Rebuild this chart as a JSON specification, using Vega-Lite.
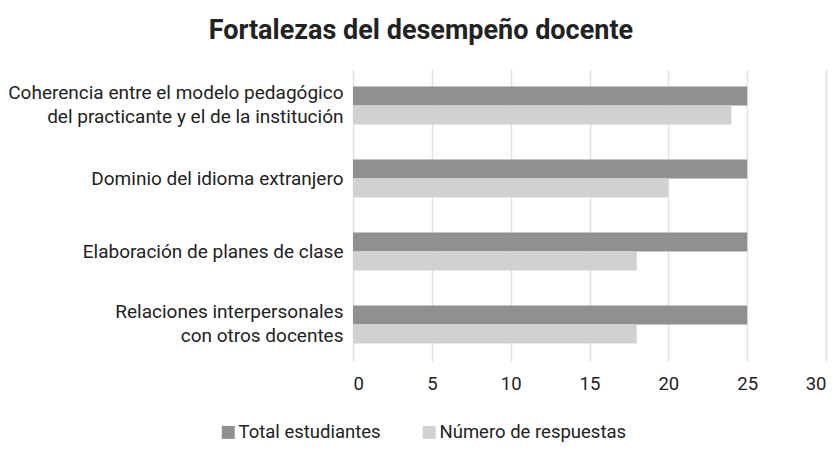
{
  "$schema": "https://vega.github.io/schema/vega-lite/v6.json",
  "width": 473,
  "height": 292,
  "autosize": {"type": "none"},
  "padding": {"left": 353, "top": 69, "right": 13, "bottom": 108},
  "background": "white",
  "title": {
    "text": "Fortalezas del desempeño docente",
    "anchor": "middle",
    "frame": "bounds",
    "font": "Roboto",
    "fontSize": 27,
    "fontWeight": "bold",
    "color": "#222222",
    "offset": 24,
    "dx": 4
  },
  "config": {
    "view": {"stroke": null},
    "font": "Roboto"
  },
  "data": {
    "values": [
      {"cat": "Coherencia entre el modelo pedagógico|del practicante y el de la institución", "serie": "Total  estudiantes", "orden": 1, "valor": 25},
      {"cat": "Coherencia entre el modelo pedagógico|del practicante y el de la institución", "serie": "Número de respuestas", "orden": 2, "valor": 24},
      {"cat": "Dominio del idioma extranjero", "serie": "Total  estudiantes", "orden": 1, "valor": 25},
      {"cat": "Dominio del idioma extranjero", "serie": "Número de respuestas", "orden": 2, "valor": 20},
      {"cat": "Elaboración de planes de clase", "serie": "Total  estudiantes", "orden": 1, "valor": 25},
      {"cat": "Elaboración de planes de clase", "serie": "Número de respuestas", "orden": 2, "valor": 18},
      {"cat": "Relaciones interpersonales|con otros docentes", "serie": "Total  estudiantes", "orden": 1, "valor": 25},
      {"cat": "Relaciones interpersonales|con otros docentes", "serie": "Número de respuestas", "orden": 2, "valor": 18}
    ]
  },
  "mark": {"type": "bar"},
  "encoding": {
    "y": {
      "field": "cat",
      "type": "nominal",
      "sort": null,
      "scale": {"paddingInner": 0, "paddingOuter": 0},
      "axis": {
        "title": null,
        "domain": false,
        "ticks": false,
        "labelExpr": "split(datum.label, '|')",
        "labelFontSize": 19,
        "labelColor": "#222222",
        "labelPadding": 10,
        "labelLineHeight": 24,
        "labelLimit": 400,
        "labelOffset": {"condition": {"test": "indexof(datum.value, '|') >= 0", "value": -13}, "value": 0}
      }
    },
    "yOffset": {
      "field": "orden",
      "type": "ordinal",
      "scale": {"paddingInner": 0, "paddingOuter": 0.92}
    },
    "x": {
      "field": "valor",
      "type": "quantitative",
      "scale": {"domain": [0, 30]},
      "axis": {
        "title": null,
        "values": [0, 5, 10, 15, 20, 25, 30],
        "labelOverlap": false,
        "domain": false,
        "ticks": false,
        "grid": true,
        "gridColor": "#e2e2e2",
        "gridWidth": 1.5,
        "labelFontSize": 18.5,
        "labelColor": "#222222",
        "labelPadding": 13
      }
    },
    "color": {
      "field": "serie",
      "type": "nominal",
      "sort": ["Total  estudiantes", "Número de respuestas"],
      "scale": {"domain": ["Total  estudiantes", "Número de respuestas"], "range": ["#8f9092", "#d0d1d3"]},
      "legend": {
        "title": null,
        "orient": "none",
        "direction": "horizontal",
        "legendX": -134,
        "legendY": 354,
        "symbolType": "square",
        "symbolSize": 169,
        "symbolStrokeWidth": 0,
        "labelFontSize": 18.5,
        "labelColor": "#222222",
        "labelOffset": 1,
        "labelLimit": 400,
        "columnPadding": 34
      }
    }
  }
}
